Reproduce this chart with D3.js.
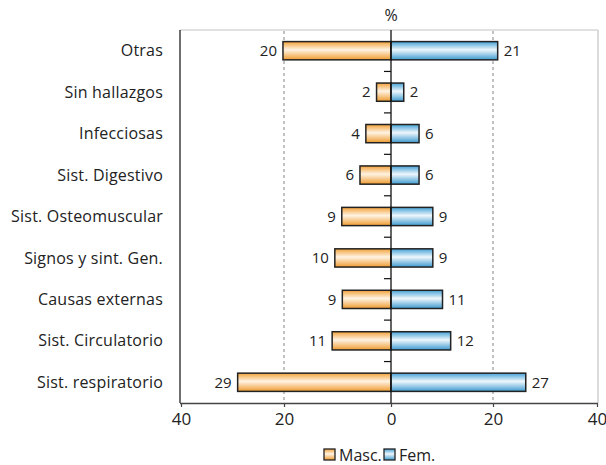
<!DOCTYPE html>
<html><head><meta charset="utf-8">
<script src="https://cdn.jsdelivr.net/npm/d3@7"></script>
<style>body{margin:0;background:#fff;} text{font-family:"Open Sans",Lato,sans-serif;fill:#222;}</style>
</head><body>
<svg id="chart" width="606" height="465"></svg>
<script>
const categories = ["Otras","Sin hallazgos","Infecciosas","Sist. Digestivo","Sist. Osteomuscular","Signos y sint. Gen.","Causas externas","Sist. Circulatorio","Sist. respiratorio"];
const mascValues = [20.2, 2.7, 4.7, 5.8, 9.2, 10.5, 9.1, 11.0, 29.0];
const femValues  = [20.9, 2.5, 5.5, 5.5, 8.2, 8.2, 10.1, 11.7, 26.3];
const mascLabels = ["20","2","4","6","9","10","9","11","29"];
const femLabels  = ["21","2","6","6","9","9","11","12","27"];
const xTicks = [-40,-20,0,20,40];
const legendNames = ["Masc.","Fem."];

const svg = d3.select("#chart");
const pTop = 30, pBottom = 403, pLeft = 180, pRight = 598;

const x = d3.scaleLinear().domain([-40,-20,0,20,40]).range([181,284,391,493,597]);
const y = d3.scaleBand().domain(categories).range([pTop,pBottom]).paddingInner(0.56).paddingOuter(0.28);

const defs = svg.append("defs");
function grad(id, edge, mid, edge2){
  const g = defs.append("linearGradient").attr("id",id).attr("x1",0).attr("y1",0).attr("x2",0).attr("y2",1);
  g.append("stop").attr("offset","0%").attr("stop-color",edge);
  g.append("stop").attr("offset","45%").attr("stop-color",mid);
  g.append("stop").attr("offset","100%").attr("stop-color",edge2);
}
grad("gOr","#f2a139","#fff3e3","#ee9b2f");
grad("gBl","#44a1d6","#eef7fc","#3d9ad0");

// frame
svg.append("line").attr("x1",pLeft).attr("x2",pRight).attr("y1",pTop).attr("y2",pTop).attr("stroke","#c4c4c4").attr("stroke-width",1.2);
svg.append("line").attr("x1",pRight).attr("x2",pRight).attr("y1",pTop).attr("y2",pBottom).attr("stroke","#c4c4c4").attr("stroke-width",1.2);
svg.append("line").attr("x1",pLeft).attr("x2",pLeft).attr("y1",pTop).attr("y2",pBottom).attr("stroke","#222").attr("stroke-width",1.3);

// gridlines
svg.append("g").selectAll("line").data([-20,20]).join("line")
  .attr("x1",d=>x(d)).attr("x2",d=>x(d)).attr("y1",pTop+1).attr("y2",pBottom)
  .attr("stroke","#999").attr("stroke-width",1.2).attr("stroke-dasharray","3,3");

// x axis
const xAxis = d3.axisBottom(x).tickValues(xTicks).tickFormat(d=>Math.abs(d)).tickSize(4).tickPadding(6);
const gx = svg.append("g").attr("transform",`translate(0,${pBottom})`).call(xAxis);
gx.select(".domain").attr("stroke","#444").attr("stroke-width",1.3).attr("d",`M${pLeft},0.5H${pRight}`);
gx.selectAll(".tick line").attr("stroke","#444").attr("stroke-width",1.2);
gx.selectAll(".tick text").style("font-size","17px").style("font-family","\"Open Sans\",sans-serif").attr("fill","#222");

// bars
const g = svg.append("g");
g.selectAll("rect.m").data(categories).join("rect").attr("class","m")
  .attr("x",(d,i)=>x(-mascValues[i])).attr("width",(d,i)=>x(0)-x(-mascValues[i]))
  .attr("y",d=>y(d)).attr("height",y.bandwidth())
  .attr("fill","url(#gOr)").attr("stroke","#222").attr("stroke-width",1.5);
g.selectAll("rect.f").data(categories).join("rect").attr("class","f")
  .attr("x",x(0)).attr("width",(d,i)=>x(femValues[i])-x(0))
  .attr("y",d=>y(d)).attr("height",y.bandwidth())
  .attr("fill","url(#gBl)").attr("stroke","#222").attr("stroke-width",1.5);

// zero line
svg.append("line").attr("x1",x(0)).attr("x2",x(0)).attr("y1",pTop).attr("y2",pBottom).attr("stroke","#111").attr("stroke-width",1.3);
// minor ticks between categories
const bounds = categories.slice(1).map(d => y(d) - y.step()*y.paddingInner()/2);
svg.append("g").selectAll("line").data(bounds).join("line")
  .attr("x1",x(0)-7).attr("x2",x(0)).attr("y1",d=>d).attr("y2",d=>d)
  .attr("stroke","#111").attr("stroke-width",1.2);

// value labels
g.selectAll("text.ml").data(categories).join("text").attr("class","ml")
  .attr("x",(d,i)=>x(-mascValues[i])-6).attr("y",d=>y(d)+y.bandwidth()/2).attr("dy","0.35em")
  .attr("text-anchor","end").style("font-size","15px").text((d,i)=>mascLabels[i]);
g.selectAll("text.fl").data(categories).join("text").attr("class","fl")
  .attr("x",(d,i)=>x(femValues[i])+6).attr("y",d=>y(d)+y.bandwidth()/2).attr("dy","0.35em")
  .attr("text-anchor","start").style("font-size","15px").text((d,i)=>femLabels[i]);

// category labels
svg.append("g").selectAll("text").data(categories).join("text")
  .attr("x",163).attr("y",d=>y(d)+y.bandwidth()/2).attr("dy","0.35em")
  .attr("text-anchor","end").style("font-size","16px").style("letter-spacing","0.2px").text(d=>d);

// % title
svg.append("text").attr("x",x(0)).attr("y",21).attr("text-anchor","middle").style("font-size","16px").text("%");

// legend
const leg = svg.append("g");
const legX = [324, 384];
const legFill = ["url(#gOr)","url(#gBl)"];
legendNames.forEach((n,i)=>{
  leg.append("rect").attr("x",legX[i]).attr("y",449).attr("width",11).attr("height",11)
    .attr("fill",legFill[i]).attr("stroke","#222").attr("stroke-width",1.3);
  leg.append("text").attr("x",legX[i]+15).attr("y",455).attr("dy","0.35em").style("font-size","16px").text(n);
});
</script>
</body></html>
